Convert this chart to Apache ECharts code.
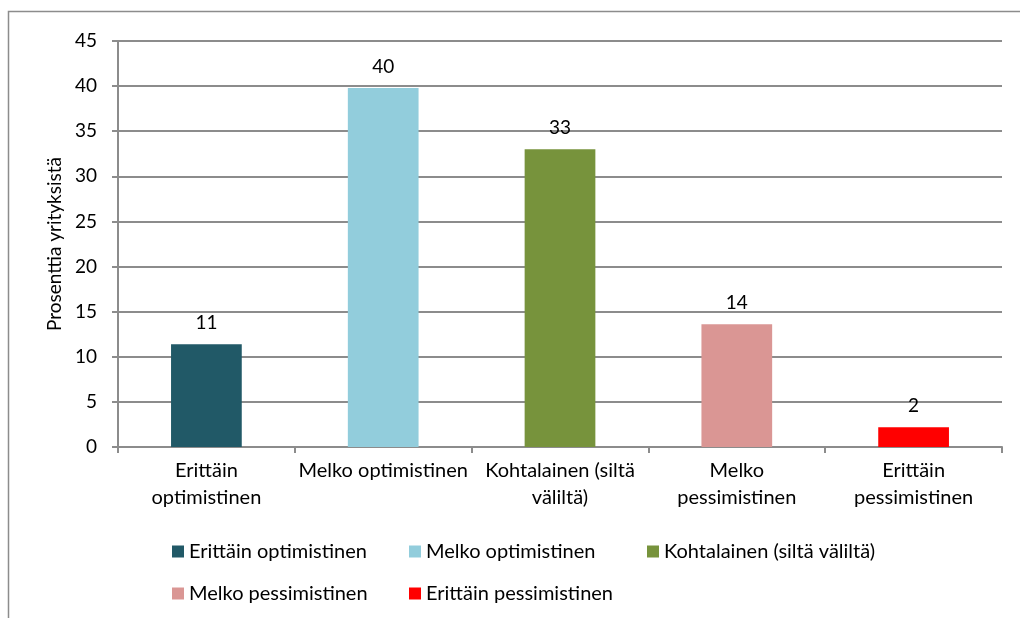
<!DOCTYPE html>
<html>
<head>
<meta charset="utf-8">
<script src="https://cdn.jsdelivr.net/npm/echarts@6/dist/echarts.min.js"></script>
<style>
html,body{margin:0;padding:0;background:#fff;}
#main{width:1020px;height:618px;}
</style>
</head>
<body>
<div id="main"></div>
<script>
var categories = ['Erittäin optimistinen', 'Melko optimistinen', 'Kohtalainen (siltä väliltä)', 'Melko pessimistinen', 'Erittäin pessimistinen'];
var tickLabels = ['Erittäin\noptimistinen', 'Melko optimistinen', 'Kohtalainen (siltä\nväliltä)', 'Melko\npessimistinen', 'Erittäin\npessimistinen'];
var values = [11.4, 39.8, 33.0, 13.6, 2.2];
var colors = ['#215967', '#92CDDC', '#77933C', '#DA9694', '#FF0000'];
var yTicks = [0, 5, 10, 15, 20, 25, 30, 35, 40, 45];
var yTitle = 'Prosenttia yrityksistä';

var FONT = 'Lato';
var chart = echarts.init(document.getElementById('main'), null, {renderer: 'canvas'});

var series = categories.map(function (name, i) {
  return {
    name: name,
    type: 'bar',
    stack: 'all',
    barWidth: '40%',
    itemStyle: {color: colors[i]},
    label: {
      show: true,
      position: 'top',
      distance: 12,
      color: '#000',
      fontFamily: FONT,
      fontSize: 19,
      formatter: function (p) { return Math.round(p.value); }
    },
    data: categories.map(function (c, j) { return j === i ? values[i] : null; })
  };
});

var legendPos = [[172, 541], [409, 541], [647, 541], [172, 583], [409, 583]];
var legends = categories.map(function (name, i) {
  return {
    data: [name],
    left: legendPos[i][0],
    top: legendPos[i][1],
    padding: 0,
    icon: 'rect',
    itemWidth: 12,
    itemHeight: 12,
    itemGap: 0,
    selectedMode: false,
    textStyle: {fontFamily: FONT, fontSize: 20, lineHeight: 21, color: '#000'}
  };
});

chart.setOption({
  animation: false,
  grid: {left: 118, right: 18, top: 41, bottom: 171, containLabel: false},
  graphic: [{
    type: 'rect',
    shape: {x: 8.5, y: 11.5, width: 1200, height: 800},
    style: {fill: 'none', stroke: '#8c8c8c', lineWidth: 1.5},
    silent: true
  }],
  legend: legends,
  xAxis: {
    type: 'category',
    data: categories,
    axisLine: {lineStyle: {color: '#8c8c8c', width: 2}},
    axisTick: {show: true, alignWithLabel: false, length: 6, lineStyle: {color: '#8c8c8c', width: 2}},
    axisLabel: {
      interval: 0,
      color: '#000',
      fontFamily: FONT,
      fontSize: 20,
      lineHeight: 27,
      margin: 10,
      formatter: function (v, i) { return tickLabels[i]; }
    }
  },
  yAxis: {
    type: 'value',
    min: yTicks[0],
    max: yTicks[yTicks.length - 1],
    interval: 5,
    name: yTitle,
    nameLocation: 'middle',
    nameGap: 52,
    nameRotate: 90,
    nameTextStyle: {fontFamily: FONT, fontSize: 19, color: '#000'},
    axisLine: {show: true, lineStyle: {color: '#8c8c8c', width: 2}},
    axisTick: {show: true, length: 6, lineStyle: {color: '#8c8c8c', width: 2}},
    splitLine: {lineStyle: {color: '#8c8c8c', width: 2}},
    axisLabel: {color: '#000', fontFamily: FONT, fontSize: 19, margin: 21}
  },
  series: series
});
</script>
</body>
</html>
